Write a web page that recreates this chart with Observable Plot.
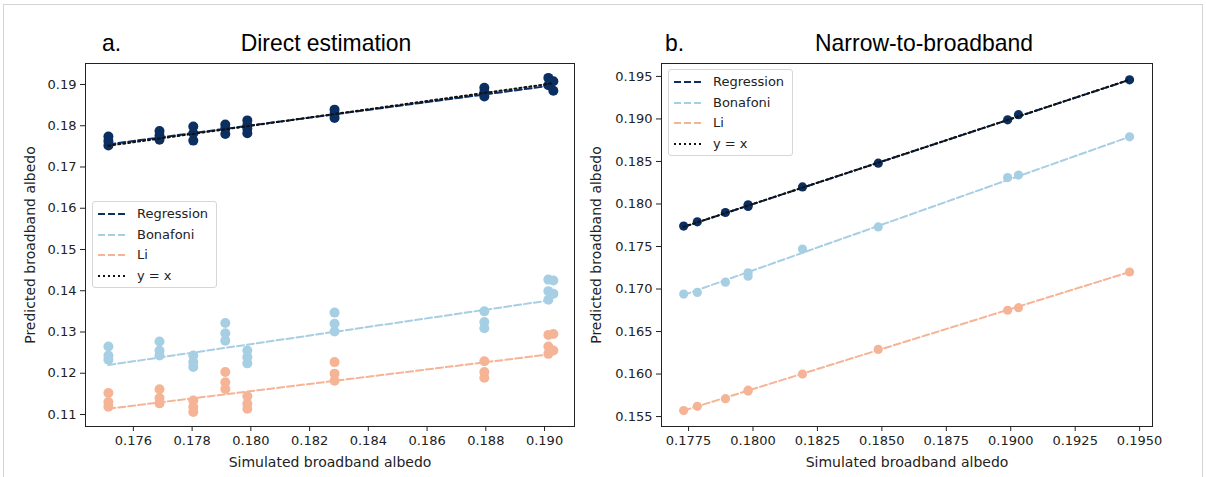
<!DOCTYPE html>
<html>
<head>
<meta charset="utf-8">
<script src="https://cdn.jsdelivr.net/npm/d3@7"></script>
<script src="https://cdn.jsdelivr.net/npm/@observablehq/plot@0.6"></script>
<style>
  body { margin: 0; background: #fff; }
  #wrap { position: relative; width: 1206px; height: 477px; overflow: hidden; background: #fff; }
  #border { position: absolute; left: 3px; top: 4px; width: 1200px; height: 480px; border: 1px solid #d4d4d4; box-sizing: border-box; }
  .panel { position: absolute; top: 0; }
  .title { position: absolute; font-family: "Liberation Sans Narrow", "Liberation Sans", sans-serif; font-size: 24px; color: #000; line-height: 1; white-space: nowrap; }
  .legend { position: absolute; width: 125px; height: 87px; border: 1px solid #d6d6d6; border-radius: 3px; background: rgba(255,255,255,0.85); box-sizing: border-box; font-family: "DejaVu Sans", sans-serif; font-size: 13px; color: #222; }
  .legend .row { position: absolute; left: 0; height: 16px; width: 123px; }
  .legend svg { position: absolute; left: 4px; top: 0; }
  .legend span { position: absolute; left: 44px; top: 0; line-height: 16px; white-space: nowrap; }
</style>
</head>
<body>
<div id="wrap"><div id="border"></div></div>
<script>
// ---------- Data: panel a (Direct estimation) ----------
const directRegX = [0.17515,0.17515,0.17515, 0.17689,0.17689,0.17689, 0.17804,0.17804,0.17804, 0.17913,0.17913,0.17913, 0.17988,0.17988,0.17988,0.17988, 0.18285,0.18285,0.18285, 0.18795,0.18795,0.18795, 0.19013,0.19030,0.19013,0.19030];
const directRegY = [0.1774,0.1763,0.1752, 0.1787,0.1776,0.1766, 0.1798,0.1782,0.1764, 0.1803,0.1793,0.1780, 0.1813,0.1801,0.1793,0.1782, 0.1839,0.1829,0.1819, 0.1892,0.1881,0.1871, 0.1916,0.1908,0.1898,0.1885];

const directBonX = [0.17515,0.17515,0.17515, 0.17689,0.17689,0.17689, 0.17804,0.17804,0.17804, 0.17913,0.17913,0.17913, 0.17988,0.17988,0.17988, 0.18285,0.18285,0.18285, 0.18795,0.18795,0.18795, 0.19013,0.19030,0.19013,0.19030,0.19013];
const directBonY = [0.1265,0.1243,0.1233, 0.1277,0.1255,0.1243, 0.1243,0.1227,0.1215, 0.1322,0.1297,0.1279, 0.1255,0.1239,0.1224, 0.1347,0.1320,0.1301, 0.1350,0.1324,0.1309, 0.1427,0.1425,0.1399,0.1393,0.1378];

const directLiX = [0.17515,0.17515,0.17515, 0.17689,0.17689,0.17689, 0.17804,0.17804,0.17804, 0.17913,0.17913,0.17913, 0.17988,0.17988,0.17988, 0.18285,0.18285,0.18285, 0.18795,0.18795,0.18795, 0.19013,0.19030,0.19013,0.19030,0.19013];
const directLiY = [0.1152,0.1130,0.1119, 0.1161,0.1140,0.1127, 0.1134,0.1118,0.1106, 0.1203,0.1178,0.1162, 0.1144,0.1126,0.1114, 0.1227,0.1199,0.1182, 0.1229,0.1203,0.1189, 0.1293,0.1295,0.1265,0.1255,0.1247];

// fitted lines (endpoints)
const directLineX = [0.17515, 0.1903];
const directLineReg = [0.1755, 0.1898];
const directLineBon = [0.1220, 0.1378];
const directLineLi = [0.1114, 0.1247];

const directXTicks = [0.176,0.178,0.180,0.182,0.184,0.186,0.188,0.190];
const directYTicks = [0.11,0.12,0.13,0.14,0.15,0.16,0.17,0.18,0.19];

// ---------- Data: panel b (Narrow-to-broadband) ----------
const n2bX   = [0.17731,0.17784,0.17893,0.17981,0.17981,0.18192,0.18486,0.18988,0.19030,0.19461];
const n2bReg = [0.1774,0.1779,0.1790,0.1797,0.1799,0.1820,0.1848,0.1899,0.1905,0.1946];
const n2bBon = [0.1694,0.1696,0.1708,0.1715,0.1719,0.1747,0.1773,0.1831,0.1834,0.1879];
const n2bLi  = [0.1557,0.1562,0.1571,0.1580,0.1581,0.1600,0.1629,0.1675,0.1678,0.1720];

const n2bLineX = [0.17731, 0.19461];
const n2bLineReg = [0.1773, 0.1946];
const n2bLineBon = [0.1693, 0.1879];
const n2bLineLi = [0.1557, 0.1720];

const n2bXTicks = [0.1775,0.1800,0.1825,0.1850,0.1875,0.1900,0.1925,0.1950];
const n2bYTicks = [0.155,0.160,0.165,0.170,0.175,0.180,0.185,0.190,0.195];

const seriesNames = ["Regression", "Bonafoni", "Li"];
const seriesColors = ["#0a2f60", "#a7cfe4", "#f6b497"];
const identityColor = "#111";

// ---------- helpers ----------
const pts = (xs, ys) => xs.map((x, i) => ({x, y: ys[i]}));
const DASH = "7,3";
const DOT = "2,3";
const LW = 2;

function panel({width, ml, mr, xDomain, yDomain, xTicks, yTicks, xFmt, yFmt, r, sets, lineX, lines, yLabelOffset}) {
  const marks = [];
  sets.forEach((s, i) => marks.push(Plot.dot(pts(s[0], s[1]), {x: "x", y: "y", r, fill: seriesColors[i], stroke: "none"})));
  lines.forEach((ly, i) => marks.push(Plot.line(pts(lineX, ly), {x: "x", y: "y", stroke: seriesColors[i], strokeWidth: LW, strokeDasharray: DASH})));
  marks.push(Plot.line(pts(lineX, lineX), {x: "x", y: "y", stroke: identityColor, strokeWidth: LW, strokeDasharray: DOT}));
  marks.push(Plot.frame({stroke: "#222", strokeWidth: 1}));
  marks.push(Plot.axisX({ticks: xTicks, tickFormat: xFmt, tickSize: 5, tickPadding: 4, label: "Simulated broadband albedo", labelArrow: "none", labelAnchor: "center", labelOffset: 40, stroke: "#222"}));
  marks.push(Plot.axisY({ticks: yTicks, tickFormat: yFmt, tickSize: 5, tickPadding: 4, label: "Predicted broadband albedo", labelArrow: "none", labelAnchor: "center", labelOffset: yLabelOffset, stroke: "#222"}));
  const svg = Plot.plot({
    width, height: 477,
    marginLeft: ml, marginRight: mr, marginTop: 63, marginBottom: 51,
    x: {type: "linear", domain: xDomain},
    y: {type: "linear", domain: yDomain},
    style: {fontFamily: "DejaVu Sans, sans-serif", fontSize: "13px", color: "#222", background: "transparent", overflow: "visible"},
    marks
  });
  // strip any arrow glyphs if the library version appends them
  svg.querySelectorAll("text").forEach(t => {
    if (/[→←↑↓]/.test(t.textContent)) t.textContent = t.textContent.replace(/\s*[→←↑↓]\s*/g, "").trim();
  });
  // axis titles are slightly larger than tick labels
  svg.querySelectorAll('g[aria-label="x-axis label"], g[aria-label="y-axis label"]').forEach(g => g.setAttribute("font-size", "14"));
  return svg;
}

const wrap = document.getElementById("wrap");

const left = panel({
  width: 600, ml: 85, mr: 26,
  xDomain: [0.17437, 0.19102], yDomain: [0.10709, 0.19509],
  xTicks: directXTicks, yTicks: directYTicks, xFmt: d3.format(".3f"), yFmt: d3.format(".2f"),
  r: 5,
  sets: [[directRegX, directRegY], [directBonX, directBonY], [directLiX, directLiY]],
  lineX: directLineX, lines: [directLineReg, directLineBon, directLineLi],
  yLabelOffset: 60
});
left.classList.add("panel"); left.style.left = "0px";
wrap.appendChild(left);

const right = panel({
  width: 606, ml: 61, mr: 54,
  xDomain: [0.17645, 0.1955], yDomain: [0.15383, 0.19652],
  xTicks: n2bXTicks, yTicks: n2bYTicks, xFmt: d3.format(".4f"), yFmt: d3.format(".3f"),
  r: 4.6,
  sets: [[n2bX, n2bReg], [n2bX, n2bBon], [n2bX, n2bLi]],
  lineX: n2bLineX, lines: [n2bLineReg, n2bLineBon, n2bLineLi],
  yLabelOffset: 70
});
right.classList.add("panel"); right.style.left = "600px";
wrap.appendChild(right);

// ---------- titles ----------
function title(text, x, anchorCenter) {
  const el = document.createElement("div");
  el.className = "title";
  el.textContent = text;
  el.style.top = "31px";
  el.style.left = x + "px";
  el.style.transformOrigin = anchorCenter ? "50% 50%" : "0 50%";
  el.style.transform = (anchorCenter ? "translateX(-50%) " : "") + "scaleX(0.955)";
  wrap.appendChild(el);
}
title("a.", 102, false);
title("Direct estimation", 326, true);
title("b.", 665, false);
title("Narrow-to-broadband", 924, true);

// ---------- legends ----------
function legend(x, y) {
  const box = document.createElement("div");
  box.className = "legend";
  box.style.left = x + "px";
  box.style.top = y + "px";
  const rowsY = [4, 24.5, 45, 65.5];
  const entries = seriesNames.map((n, i) => ({name: n, color: seriesColors[i], dash: DASH})).concat([{name: "y = x", color: identityColor, dash: DOT}]);
  entries.forEach((e, i) => {
    const row = document.createElement("div");
    row.className = "row";
    row.style.top = rowsY[i] + "px";
    row.innerHTML = `<svg width="30" height="16"><line x1="1" x2="29" y1="8" y2="8" stroke="${e.color}" stroke-width="${LW}" stroke-dasharray="${e.dash}"/></svg><span>${e.name}</span>`;
    box.appendChild(row);
  });
  wrap.appendChild(box);
}
legend(92, 201);
legend(668, 69);
</script>
</body>
</html>
